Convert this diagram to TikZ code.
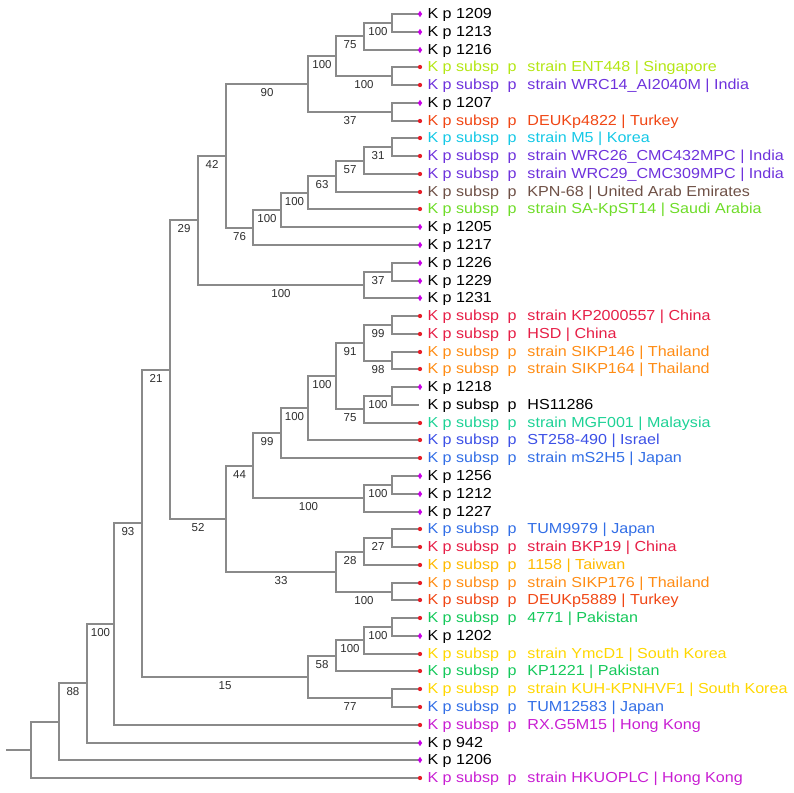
\documentclass[tikz,border=0pt]{standalone}
\usepackage{fontspec}
\setmainfont{Liberation Sans}[FakeStretch=1.11]
\newfontfamily\bsfont{Liberation Sans}
\usetikzlibrary{shapes.geometric}
\definecolor{brgray}{RGB}{138,138,138}
\definecolor{bstext}{RGB}{45,45,45}
\definecolor{kpmag}{RGB}{200,0,230}
\definecolor{dotred}{RGB}{230,30,40}
\definecolor{cEnt}{RGB}{180,230,20}
\definecolor{cViolet}{RGB}{110,50,220}
\definecolor{cOrRed}{RGB}{240,70,20}
\definecolor{cCyan}{RGB}{20,200,230}
\definecolor{cBrown}{RGB}{110,80,70}
\definecolor{cLime}{RGB}{110,220,40}
\definecolor{cCrimson}{RGB}{230,30,70}
\definecolor{cOrange}{RGB}{255,140,20}
\definecolor{cTeal}{RGB}{30,210,150}
\definecolor{cBlueI}{RGB}{60,80,230}
\definecolor{cBlueJ}{RGB}{50,110,230}
\definecolor{cAmber}{RGB}{255,185,0}
\definecolor{cGreen}{RGB}{20,200,90}
\definecolor{cYellow}{RGB}{255,215,0}
\definecolor{cMagenta}{RGB}{200,30,210}
\newcommand{\subsplabel}[1]{\makebox[100pt][l]{K p subsp\hspace{8.5pt}p}#1}
\tikzset{
  br/.style={draw=brgray, line width=2pt, line cap=rect},
  bs/.style={pos=0.75, yshift=-8.3pt, inner sep=0pt, text=bstext, font=\bsfont\fontsize{11.5}{13}\selectfont},
  lf/.style={anchor=base west, inner sep=0pt, font=\fontsize{14.5}{16}\selectfont},
  kpmark/.style={diamond, fill=kpmag, inner sep=0pt, minimum width=4.5pt, minimum height=6.5pt},
  dotmark/.style={circle, fill=dotred, inner sep=0pt, minimum size=4.3pt}
}
\begin{document}
\begin{tikzpicture}[x=1pt,y=-1pt]
\useasboundingbox (0,0) rectangle (794,792);
% tips
\coordinate (t1) at (420,14);
\coordinate (t2) at (420,32);
\coordinate (t3) at (420,50);
\coordinate (t4) at (420,67);
\coordinate (t5) at (420,85);
\coordinate (t6) at (420,103);
\coordinate (t7) at (420,121);
\coordinate (t8) at (420,138);
\coordinate (t9) at (420,156);
\coordinate (t10) at (420,174);
\coordinate (t11) at (420,192);
\coordinate (t12) at (420,209);
\coordinate (t13) at (420,227);
\coordinate (t14) at (420,245);
\coordinate (t15) at (420,263);
\coordinate (t16) at (420,281);
\coordinate (t17) at (420,298);
\coordinate (t18) at (420,316);
\coordinate (t19) at (420,334);
\coordinate (t20) at (420,352);
\coordinate (t21) at (420,369);
\coordinate (t22) at (420,387);
\coordinate (t23) at (418,405);
\coordinate (t24) at (420,423);
\coordinate (t25) at (420,440);
\coordinate (t26) at (420,458);
\coordinate (t27) at (420,476);
\coordinate (t28) at (420,494);
\coordinate (t29) at (420,512);
\coordinate (t30) at (420,529);
\coordinate (t31) at (420,547);
\coordinate (t32) at (420,565);
\coordinate (t33) at (420,583);
\coordinate (t34) at (420,600);
\coordinate (t35) at (420,618);
\coordinate (t36) at (420,636);
\coordinate (t37) at (420,654);
\coordinate (t38) at (420,671);
\coordinate (t39) at (420,689);
\coordinate (t40) at (420,707);
\coordinate (t41) at (420,725);
\coordinate (t42) at (420,743);
\coordinate (t43) at (420,760);
\coordinate (t44) at (420,778);
% internal nodes
\coordinate (a1) at (392,23);
\coordinate (a2) at (364,36);
\coordinate (a3) at (392,76);
\coordinate (a4) at (336,56);
\coordinate (a5) at (392,112);
\coordinate (a6) at (308,84);
\coordinate (b1) at (392,147);
\coordinate (b2) at (364,161);
\coordinate (b3) at (336,176);
\coordinate (b4) at (308,193);
\coordinate (b5) at (281,210);
\coordinate (b6) at (253,228);
\coordinate (n42) at (226,156);
\coordinate (c1) at (392,272);
\coordinate (c2) at (364,285);
\coordinate (n29) at (198,220);
\coordinate (d1) at (392,325);
\coordinate (d2) at (392,361);
\coordinate (d3) at (364,343);
\coordinate (d4) at (392,396);
\coordinate (d5) at (364,409);
\coordinate (d6) at (336,376);
\coordinate (d7) at (308,408);
\coordinate (d8) at (281,433);
\coordinate (d9) at (392,485);
\coordinate (d10) at (364,498);
\coordinate (d11) at (253,466);
\coordinate (e1) at (392,538);
\coordinate (e2) at (364,552);
\coordinate (e3) at (392,592);
\coordinate (e4) at (336,572);
\coordinate (n52) at (226,519);
\coordinate (n21) at (170,370);
\coordinate (f1) at (392,627);
\coordinate (f2) at (364,640);
\coordinate (f3) at (336,656);
\coordinate (f4) at (392,698);
\coordinate (f5) at (308,677);
\coordinate (n93) at (142,523);
\coordinate (n100) at (114,624);
\coordinate (n88) at (87,683);
\coordinate (g1) at (59,722);
\coordinate (root) at (31,750);
\coordinate (stub) at (7,750);
% branches
\draw[br] (stub) -- (root);
\draw[br] (root) |- (g1);
\draw[br] (root) |- (t44);
\draw[br] (g1) |- (t43);
\draw[br] (g1) |- (n88) node[bs] (bn88) {88};
\draw[br] (n88) |- (n100) node[bs] (bn100) {100};
\draw[br] (n88) |- (t42);
\draw[br] (n100) |- (n93) node[bs] (bn93) {93};
\draw[br] (n100) |- (t41);
\draw[br] (n93) |- (n21) node[bs] (bn21) {21};
\draw[br] (n93) |- (f5) node[bs] (bf5) {15};
\draw[br] (f5) |- (f3) node[bs] (bf3) {58};
\draw[br] (f5) |- (f4) node[bs] (bf4) {77};
\draw[br] (f3) |- (f2) node[bs] (bf2) {100};
\draw[br] (f3) |- (t38);
\draw[br] (f2) |- (f1) node[bs] (bf1) {100};
\draw[br] (f2) |- (t37);
\draw[br] (f1) |- (t35);
\draw[br] (f1) |- (t36);
\draw[br] (f4) |- (t39);
\draw[br] (f4) |- (t40);
\draw[br] (n21) |- (n29) node[bs] (bn29) {29};
\draw[br] (n21) |- (n52) node[bs] (bn52) {52};
\draw[br] (n52) |- (d11) node[bs] (bd11) {44};
\draw[br] (n52) |- (e4) node[bs] (be4) {33};
\draw[br] (e4) |- (e2) node[bs] (be2) {28};
\draw[br] (e4) |- (e3) node[bs] (be3) {100};
\draw[br] (e2) |- (e1) node[bs] (be1) {27};
\draw[br] (e2) |- (t32);
\draw[br] (e1) |- (t30);
\draw[br] (e1) |- (t31);
\draw[br] (e3) |- (t33);
\draw[br] (e3) |- (t34);
\draw[br] (d11) |- (d8) node[bs] (bd8) {99};
\draw[br] (d11) |- (d10) node[bs] (bd10) {100};
\draw[br] (d10) |- (d9) node[bs] (bd9) {100};
\draw[br] (d10) |- (t29);
\draw[br] (d9) |- (t27);
\draw[br] (d9) |- (t28);
\draw[br] (d8) |- (d7) node[bs] (bd7) {100};
\draw[br] (d8) |- (t26);
\draw[br] (d7) |- (d6) node[bs] (bd6) {100};
\draw[br] (d7) |- (t25);
\draw[br] (d6) |- (d3) node[bs] (bd3) {91};
\draw[br] (d6) |- (d5) node[bs] (bd5) {75};
\draw[br] (d5) |- (d4) node[bs] (bd4) {100};
\draw[br] (d5) |- (t24);
\draw[br] (d4) |- (t22);
\draw[br] (d4) |- (t23);
\draw[br] (d3) |- (d1) node[bs] (bd1) {99};
\draw[br] (d3) |- (d2) node[bs] (bd2) {98};
\draw[br] (d1) |- (t18);
\draw[br] (d1) |- (t19);
\draw[br] (d2) |- (t20);
\draw[br] (d2) |- (t21);
\draw[br] (n29) |- (n42) node[bs] (bn42) {42};
\draw[br] (n29) |- (c2) node[bs] (bc2) {100};
\draw[br] (c2) |- (c1) node[bs] (bc1) {37};
\draw[br] (c2) |- (t17);
\draw[br] (c1) |- (t15);
\draw[br] (c1) |- (t16);
\draw[br] (n42) |- (a6) node[bs] (ba6) {90};
\draw[br] (n42) |- (b6) node[bs] (bb6) {76};
\draw[br] (b6) |- (b5) node[bs] (bb5) {100};
\draw[br] (b6) |- (t14);
\draw[br] (b5) |- (b4) node[bs] (bb4) {100};
\draw[br] (b5) |- (t13);
\draw[br] (b4) |- (b3) node[bs] (bb3) {63};
\draw[br] (b4) |- (t12);
\draw[br] (b3) |- (b2) node[bs] (bb2) {57};
\draw[br] (b3) |- (t11);
\draw[br] (b2) |- (b1) node[bs] (bb1) {31};
\draw[br] (b2) |- (t10);
\draw[br] (b1) |- (t8);
\draw[br] (b1) |- (t9);
\draw[br] (a6) |- (a4) node[bs] (ba4) {100};
\draw[br] (a6) |- (a5) node[bs] (ba5) {37};
\draw[br] (a5) |- (t6);
\draw[br] (a5) |- (t7);
\draw[br] (a4) |- (a2) node[bs] (ba2) {75};
\draw[br] (a4) |- (a3) node[bs] (ba3) {100};
\draw[br] (a3) |- (t4);
\draw[br] (a3) |- (t5);
\draw[br] (a2) |- (a1) node[bs] (ba1) {100};
\draw[br] (a2) |- (t3);
\draw[br] (a1) |- (t1);
\draw[br] (a1) |- (t2);
% markers
\foreach \i in {1,2,3,6,13,14,15,16,17,22,27,28,29,36,42,43} {\node[kpmark] (m\i) at (t\i) {};}
\foreach \i in {4,5,7,8,9,10,11,12,18,19,20,21,24,25,26,30,31,32,33,34,35,37,38,39,40,41,44} {\node[dotmark] (m\i) at (t\i) {};}
% labels
\node[lf] (l1) at (427.3,18.5) {K p 1209};
\node[lf] (l2) at (427.3,36.5) {K p 1213};
\node[lf] (l3) at (427.3,54.5) {K p 1216};
\node[lf, text=cEnt] (l4) at (427.3,71.5) {\subsplabel{strain ENT448 | Singapore}};
\node[lf, text=cViolet] (l5) at (427.3,89.5) {\subsplabel{strain WRC14\_AI2040M | India}};
\node[lf] (l6) at (427.3,107.5) {K p 1207};
\node[lf, text=cOrRed] (l7) at (427.3,125.5) {\subsplabel{DEUKp4822 | Turkey}};
\node[lf, text=cCyan] (l8) at (427.3,142.5) {\subsplabel{strain M5 | Korea}};
\node[lf, text=cViolet] (l9) at (427.3,160.5) {\subsplabel{strain WRC26\_CMC432MPC | India}};
\node[lf, text=cViolet] (l10) at (427.3,178.5) {\subsplabel{strain WRC29\_CMC309MPC | India}};
\node[lf, text=cBrown] (l11) at (427.3,196.5) {\subsplabel{KPN-68 | United Arab Emirates}};
\node[lf, text=cLime] (l12) at (427.3,213.5) {\subsplabel{strain SA-KpST14 | Saudi Arabia}};
\node[lf] (l13) at (427.3,231.5) {K p 1205};
\node[lf] (l14) at (427.3,249.5) {K p 1217};
\node[lf] (l15) at (427.3,267.5) {K p 1226};
\node[lf] (l16) at (427.3,285.5) {K p 1229};
\node[lf] (l17) at (427.3,302.5) {K p 1231};
\node[lf, text=cCrimson] (l18) at (427.3,320.5) {\subsplabel{strain KP2000557 | China}};
\node[lf, text=cCrimson] (l19) at (427.3,338.5) {\subsplabel{HSD | China}};
\node[lf, text=cOrange] (l20) at (427.3,356.5) {\subsplabel{strain SIKP146 | Thailand}};
\node[lf, text=cOrange] (l21) at (427.3,373.5) {\subsplabel{strain SIKP164 | Thailand}};
\node[lf] (l22) at (427.3,391.5) {K p 1218};
\node[lf] (l23) at (427.3,409.5) {\subsplabel{HS11286}};
\node[lf, text=cTeal] (l24) at (427.3,427.5) {\subsplabel{strain MGF001 | Malaysia}};
\node[lf, text=cBlueI] (l25) at (427.3,444.5) {\subsplabel{ST258-490 | Israel}};
\node[lf, text=cBlueJ] (l26) at (427.3,462.5) {\subsplabel{strain mS2H5 | Japan}};
\node[lf] (l27) at (427.3,480.5) {K p 1256};
\node[lf] (l28) at (427.3,498.5) {K p 1212};
\node[lf] (l29) at (427.3,516.5) {K p 1227};
\node[lf, text=cBlueJ] (l30) at (427.3,533.5) {\subsplabel{TUM9979 | Japan}};
\node[lf, text=cCrimson] (l31) at (427.3,551.5) {\subsplabel{strain BKP19 | China}};
\node[lf, text=cAmber] (l32) at (427.3,569.5) {\subsplabel{1158 | Taiwan}};
\node[lf, text=cOrange] (l33) at (427.3,587.5) {\subsplabel{strain SIKP176 | Thailand}};
\node[lf, text=cOrRed] (l34) at (427.3,604.5) {\subsplabel{DEUKp5889 | Turkey}};
\node[lf, text=cGreen] (l35) at (427.3,622.5) {\subsplabel{4771 | Pakistan}};
\node[lf] (l36) at (427.3,640.5) {K p 1202};
\node[lf, text=cYellow] (l37) at (427.3,658.5) {\subsplabel{strain YmcD1 | South Korea}};
\node[lf, text=cGreen] (l38) at (427.3,675.5) {\subsplabel{KP1221 | Pakistan}};
\node[lf, text=cYellow] (l39) at (427.3,693.5) {\subsplabel{strain KUH-KPNHVF1 | South Korea}};
\node[lf, text=cBlueJ] (l40) at (427.3,711.5) {\subsplabel{TUM12583 | Japan}};
\node[lf, text=cMagenta] (l41) at (427.3,729.5) {\subsplabel{RX.G5M15 | Hong Kong}};
\node[lf] (l42) at (427.3,747.5) {K p 942};
\node[lf] (l43) at (427.3,764.5) {K p 1206};
\node[lf, text=cMagenta] (l44) at (427.3,782.5) {\subsplabel{strain HKUOPLC | Hong Kong}};
\end{tikzpicture}
\end{document}
